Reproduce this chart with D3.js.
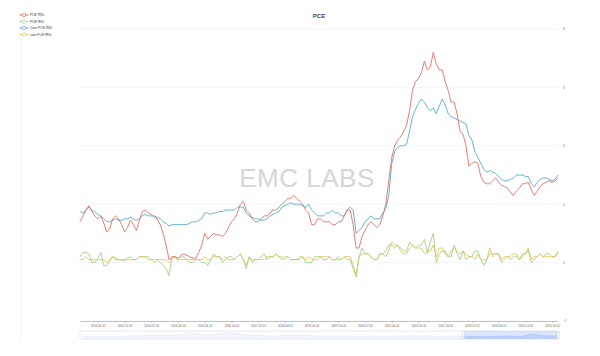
<!DOCTYPE html>
<html><head><meta charset="utf-8">
<script src="https://cdn.jsdelivr.net/npm/d3@7"></script>
<style>html,body{margin:0;padding:0;background:#fff;}svg{display:block;font-family:"Liberation Sans","Noto Sans CJK SC",sans-serif;}</style>
</head><body>
<svg id="chart" width="600" height="356"></svg>
<script>
// ---- data (monthly, 2012-07 .. 2025-12) ----
const seriesNames = ["PCE 同比", "PCE 环比", "Core PCE 同比", "core PCE 环比"];
const seriesColors = ["#e0685c", "#9ccf7f", "#4fa3cb", "#e2c255"];
const pceYoY = [
 1.4,1.6,1.8,1.95,1.75,1.6,
 1.5,1.6,1.35,1.05,1.15,1.5,1.6,1.5,1.3,1.05,1.2,1.45,
 1.3,1.1,1.45,1.75,1.8,1.7,1.65,1.55,1.5,1.3,1.0,0.6,
 0.1,0.2,0.2,0.15,0.25,0.3,0.25,0.2,0.15,0.15,0.35,0.6,
 1.0,0.8,0.9,1.0,0.95,0.95,0.9,1.0,1.2,1.4,1.5,1.7,
 2.0,2.1,1.8,1.7,1.5,1.4,1.4,1.5,1.6,1.6,1.7,1.8,
 1.8,1.9,2.0,2.1,2.2,2.2,2.3,2.2,2.1,2.0,1.8,1.7,
 1.3,1.3,1.5,1.5,1.4,1.4,1.4,1.3,1.3,1.4,1.4,1.6,
 1.8,1.8,1.3,0.5,0.5,0.9,1.1,1.3,1.4,1.3,1.2,1.3,
 1.6,2.0,2.8,3.6,4.0,4.2,4.3,4.5,4.7,5.2,5.9,6.2,
 6.3,6.5,6.9,6.6,6.7,7.2,6.8,6.6,6.6,6.2,5.9,5.5,
 5.5,5.1,4.5,4.4,4.0,3.3,3.4,3.45,3.4,2.95,2.75,2.7,
 2.7,2.8,2.9,2.75,2.65,2.6,2.55,2.4,2.3,2.45,2.55,2.7,
 2.7,2.75,2.5,2.3,2.45,2.6,2.7,2.75,2.8,2.75,2.8,2.9
];
const pceMoM = [
 0.2,0.35,0.35,0.3,0.0,0.0,
 0.15,0.35,-0.1,-0.1,0.05,0.2,0.15,0.1,0.1,0.05,0.15,0.2,
 0.1,0.1,0.2,0.2,0.2,0.2,0.1,0.0,0.1,0.0,-0.1,-0.2,
 -0.45,0.2,0.2,0.1,0.2,0.2,0.1,0.0,0.0,0.1,0.1,0.0,
 0.0,-0.1,0.1,0.3,0.2,0.2,0.0,0.1,0.2,0.2,0.1,0.2,
 0.3,0.1,-0.2,0.2,0.0,0.1,0.1,0.2,0.3,0.1,0.2,0.2,
 0.3,0.2,0.1,0.2,0.2,0.1,0.1,0.1,0.1,0.2,0.0,0.0,
 0.0,0.2,0.2,0.2,0.1,0.1,0.2,0.1,0.1,0.2,0.1,0.2,
 0.1,0.1,-0.2,-0.5,0.2,0.5,0.3,0.3,0.2,0.1,0.1,0.3,
 0.3,0.4,0.6,0.6,0.5,0.6,0.5,0.4,0.4,0.7,0.6,0.5,
 0.6,0.6,0.8,0.3,0.7,1.0,0.0,0.3,0.4,0.4,0.2,0.2,
 0.6,0.3,0.1,0.4,0.1,0.2,0.2,0.4,0.4,0.1,-0.1,0.1,
 0.3,0.3,0.3,0.3,0.0,0.1,0.2,0.1,0.2,0.2,0.1,0.3,
 0.3,0.4,0.0,0.1,0.2,0.3,0.2,0.3,0.3,0.2,0.2,0.35
];
const coreYoY = [
 1.75,1.7,1.8,1.9,1.8,1.75,
 1.65,1.6,1.5,1.4,1.4,1.45,1.5,1.45,1.45,1.5,1.5,1.55,
 1.5,1.45,1.5,1.6,1.65,1.6,1.6,1.6,1.55,1.5,1.4,1.35,
 1.25,1.3,1.3,1.3,1.3,1.3,1.3,1.35,1.4,1.4,1.45,1.5,
 1.7,1.7,1.65,1.7,1.7,1.75,1.75,1.8,1.8,1.8,1.8,1.9,
 1.9,1.9,1.7,1.6,1.55,1.5,1.5,1.45,1.45,1.5,1.6,1.65,
 1.7,1.75,1.9,1.95,2.0,2.05,2.0,2.0,2.0,1.95,1.9,2.0,
 1.8,1.7,1.6,1.6,1.6,1.7,1.7,1.8,1.7,1.7,1.6,1.6,
 1.8,1.9,1.8,1.0,1.1,1.2,1.4,1.5,1.6,1.5,1.5,1.5,
 1.7,1.85,2.3,3.4,3.8,3.95,4.0,4.0,4.05,4.5,5.0,5.25,
 5.45,5.6,5.5,5.3,5.2,5.3,5.1,5.35,5.6,5.4,5.1,5.0,
 4.95,4.9,4.85,4.8,4.75,4.35,4.2,3.8,3.6,3.4,3.2,3.1,
 3.15,3.1,3.05,2.95,2.85,2.8,2.8,2.85,2.9,3.0,3.0,3.0,
 2.95,2.95,2.7,2.6,2.75,2.85,2.9,2.9,2.85,2.8,2.85,3.0
];
const coreMoM = [
 0.1,0.1,0.2,0.1,0.1,0.1,
 0.1,0.1,0.1,0.0,0.1,0.2,0.1,0.1,0.1,0.1,0.1,0.1,
 0.1,0.1,0.2,0.2,0.2,0.1,0.1,0.1,0.1,0.1,0.1,0.1,
 0.0,0.1,0.2,0.1,0.1,0.1,0.1,0.1,0.1,0.1,0.1,0.1,
 0.2,0.1,0.1,0.2,0.2,0.2,0.1,0.2,0.1,0.1,0.1,0.2,
 0.3,0.1,-0.1,0.2,0.1,0.1,0.1,0.1,0.1,0.2,0.2,0.2,
 0.3,0.2,0.2,0.1,0.2,0.1,0.1,0.1,0.2,0.2,0.1,0.2,
 0.1,0.1,0.1,0.2,0.2,0.2,0.2,0.1,0.1,0.1,0.1,0.2,
 0.2,0.2,-0.1,-0.4,0.2,0.3,0.3,0.3,0.2,0.1,0.1,0.3,
 0.3,0.2,0.4,0.7,0.6,0.6,0.4,0.3,0.3,0.5,0.6,0.5,
 0.5,0.5,0.3,0.4,0.4,0.6,0.2,0.5,0.5,0.3,0.2,0.4,
 0.5,0.4,0.3,0.4,0.3,0.2,0.2,0.1,0.3,0.1,0.1,0.1,
 0.5,0.2,0.3,0.3,0.1,0.2,0.2,0.2,0.3,0.3,0.1,0.2,
 0.3,0.5,0.1,0.2,0.2,0.3,0.2,0.2,0.2,0.2,0.2,0.4
];
const tickLabels = ["2013-01-01","2013-10-01","2014-07-01","2015-04-01","2016-01-01","2016-10-01",
 "2017-07-01","2018-04-01","2019-01-01","2019-10-01","2020-07-01","2021-04-01","2022-01-01",
 "2022-10-01","2023-07-01","2024-04-01","2025-01-01","2025-10-01"];
const yTicks = [-2, 0, 2, 4, 6, 8];
// annual PCE YoY 1959..2011 (dataZoom shadow, outside the window)
const pceYoYHistory = [1.6,1.6,1.0,1.3,1.2,1.5,1.5,2.9,2.4,4.1,4.5,4.5,3.9,3.3,6.4,10.9,8.0,5.2,6.1,7.8,
 9.7,10.6,8.7,5.4,3.5,3.6,2.9,1.8,3.6,4.0,4.3,4.7,3.2,2.6,2.3,2.1,2.0,2.1,1.7,0.8,1.6,2.5,1.9,1.3,2.0,
 2.5,2.9,2.7,2.6,3.4,0.0,1.7,2.5];
const seriesData = [pceYoY, pceMoM, coreYoY, coreMoM];

// ---- drawing ----
const fmt = d3.timeFormat("%Y-%m-%d");
const months = d3.timeMonths(new Date(2012, 6, 1), new Date(2026, 0, 1)).map(fmt);
const svg = d3.select("#chart");
const L = 80, R = 558, T = 29, B = 321;
const x = d3.scalePoint().domain(months).range([L, R]);
const y = d3.scaleLinear().domain([-2, 8]).range([B, T]);

// faint left border line
svg.append("line").attr("x1", 21).attr("x2", 21).attr("y1", 13).attr("y2", 340)
  .attr("stroke", "#eef0f3").attr("stroke-width", 0.8);

// gridlines
svg.append("g").selectAll("line").data(yTicks).join("line")
  .attr("x1", L).attr("x2", R).attr("y1", d => y(d)).attr("y2", d => y(d))
  .attr("stroke", "#e8ebf1").attr("stroke-width", 0.5);

// watermark
svg.append("text").attr("x", 307).attr("y", 187).attr("text-anchor", "middle")
  .attr("font-size", 26).attr("fill", "#d6d6d6").attr("letter-spacing", 0.5).text("EMC LABS");

// right axis labels
const ya = svg.append("g").attr("transform", `translate(${R + 4},0)`)
  .call(d3.axisRight(y).tickValues(yTicks).tickSize(0).tickPadding(1));
ya.select(".domain").remove();
ya.selectAll("text").attr("font-size", 3).attr("fill", "#6e7079").attr("font-family", "Liberation Sans");

// x axis
const xa = svg.append("g").attr("transform", `translate(0,${B})`)
  .call(d3.axisBottom(x).tickValues(tickLabels).tickSize(2).tickPadding(1.5).tickSizeOuter(0));
xa.select(".domain").attr("stroke", "#9a9ca3").attr("stroke-width", 0.6);
xa.selectAll(".tick line").attr("stroke", "#9a9ca3").attr("stroke-width", 0.5);
xa.selectAll("text").attr("font-size", 2.9).attr("fill", "#5e6069").attr("font-family", "Liberation Sans");

// lines
const line = d3.line().x((d, i) => x(months[i])).y(d => y(d));
const drawOrder = [1, 3, 2, 0];
drawOrder.forEach(k => {
  svg.append("path").datum(seriesData[k]).attr("d", line)
    .attr("fill", "none").attr("stroke", seriesColors[k]).attr("stroke-width", 0.85)
    .attr("stroke-linejoin", "round");
});

// title
svg.append("text").attr("x", 319).attr("y", 18).attr("text-anchor", "middle")
  .attr("font-size", 6).attr("font-weight", "bold").attr("fill", "#464646").text("PCE");

// legend
const lg = svg.append("g").selectAll("g").data(seriesNames).join("g")
  .attr("transform", (d, i) => `translate(0,${15 + i * 6.5})`);
lg.append("line").attr("x1", 19.5).attr("x2", 28.5).attr("y1", 0).attr("y2", 0)
  .attr("stroke", (d, i) => seriesColors[i]).attr("stroke-width", 0.9);
lg.append("path").attr("d", "M24,-2.2L26.2,0L24,2.2L21.8,0Z").attr("fill", "#fff")
  .attr("stroke", (d, i) => seriesColors[i]).attr("stroke-width", 0.8);
lg.append("text").attr("x", 30).attr("y", 1.2).attr("font-size", 3.3).attr("fill", "#333")
  .text(d => d);

// dataZoom slider
const totalN = pceYoYHistory.length * 12 + 18 + months.length; // 1959-01 .. 2025-12
const startIdx = totalN - months.length;
const xs = d3.scaleLinear().domain([0, totalN - 1]).range([L, R]);
const ys = d3.scaleLinear().domain([-5.5, 15.5]).range([339, 331]);
const sh = pceYoYHistory.map((v, i) => [i * 12 + 6, v]);
const shSel = pceYoY.map((v, i) => [startIdx + i, v]);
const histAll = sh.concat([[startIdx, pceYoY[0]]]);
const area = d3.area().x(d => xs(d[0])).y0(339).y1(d => ys(d[1]));
const sl = d3.line().x(d => xs(d[0])).y(d => ys(d[1]));
svg.append("rect").attr("x", L).attr("y", 331).attr("width", R - L).attr("height", 8)
  .attr("fill", "none").attr("stroke", "#d2dbee").attr("stroke-width", 0.6).attr("rx", 1);
svg.append("path").datum(histAll).attr("d", area).attr("fill", "#d2dbee").attr("opacity", 0.25);
svg.append("path").datum(histAll).attr("d", sl).attr("fill", "none").attr("stroke", "#d2dbee").attr("stroke-width", 0.4);
const x0 = xs(startIdx);
svg.append("rect").attr("x", x0).attr("y", 331).attr("width", R - x0).attr("height", 8)
  .attr("fill", "rgba(135,175,255,0.3)");
svg.append("path").datum(shSel).attr("d", area).attr("fill", "#8fb0f7").attr("opacity", 0.35);
svg.append("path").datum(shSel).attr("d", sl).attr("fill", "none").attr("stroke", "#8fb0f7").attr("stroke-width", 0.5);
[x0, R].forEach(hx => {
  svg.append("rect").attr("x", hx - 1.2).attr("y", 331.2).attr("width", 2.4).attr("height", 7.6)
    .attr("rx", 1).attr("fill", "#fff").attr("stroke", "#acb8d1").attr("stroke-width", 0.5);
});
</script>
</body></html>
